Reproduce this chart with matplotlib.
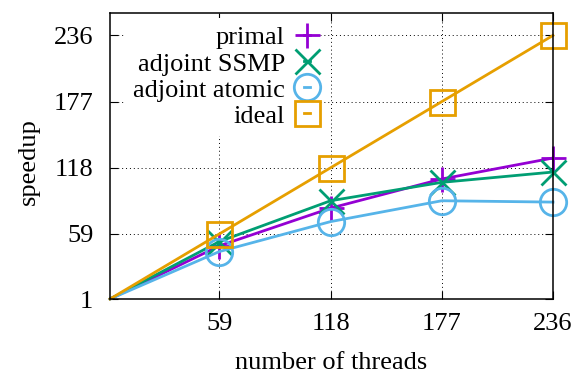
import numpy as np
import matplotlib
matplotlib.use('Agg')
import matplotlib.pyplot as plt

# ==========================
# data
# ==========================
threads = [1, 59, 118, 177, 236]
primal = [1, 48.4, 82, 108, 126.7]
adjoint_ssmp = [1, 52.2, 88.6, 105, 114.2]
adjoint_atomic = [1, 43.3, 70, 88.6, 87.4]
ideal = [1, 59, 118, 177, 236]

tick_vals = [59, 118, 177, 236]
ytick_vals = [1, 59, 118, 177, 236]

plt.rcParams.update({
    'font.family': 'Liberation Serif',
    'font.size': 19,
})

fig = plt.figure(figsize=(5.76, 3.83), dpi=100)
ax = fig.add_axes([110/576, 1 - 299/383, 443/576, 286/383])

series = [
    ("primal", primal, '#9400d3', '+', 18),
    ("adjoint SSMP", adjoint_ssmp, '#009e73', 'x', 18),
    ("adjoint atomic", adjoint_atomic, '#56b4e9', 'o', 19),
    ("ideal", ideal, '#e69f00', 's', 18),
]

for label, vals, c, m, ms in series:
    ax.plot(threads, vals, color=c, lw=2, marker=m, ms=ms,
            mfc='none', mec=c, mew=2, markevery=[1, 2, 3, 4],
            label=label, clip_on=False)

ax.set_xlim(1, 236)
ax.set_ylim(1, 256)
ax.set_xticks(tick_vals)
ax.set_yticks(ytick_vals)

ax.tick_params(direction='in', length=6, width=0.8, top=True, right=True)
ax.tick_params(axis='x', pad=10)
ax.tick_params(axis='y', pad=12)
for s in ax.spines.values():
    s.set_linewidth(1.1)

ax.grid(True, color='black', lw=0.7, ls=(0, (1, 3)))
ax.set_axisbelow(True)

ax.set_xlabel("number of threads")
ax.xaxis.set_label_coords(0.5, -0.184)
ax.set_ylabel("speedup")
ax.yaxis.set_label_coords(-0.158, 0.48)

leg = ax.legend(loc='upper right', bbox_to_anchor=(318/576, 1 - 18/383),
                bbox_transform=fig.transFigure, markerfirst=False,
                handlelength=0.23, handletextpad=0.72, labelspacing=0.1,
                borderpad=0.3, frameon=True, framealpha=1, fancybox=False,
                edgecolor='none', borderaxespad=0)

fig.savefig('out.png', dpi=100)
